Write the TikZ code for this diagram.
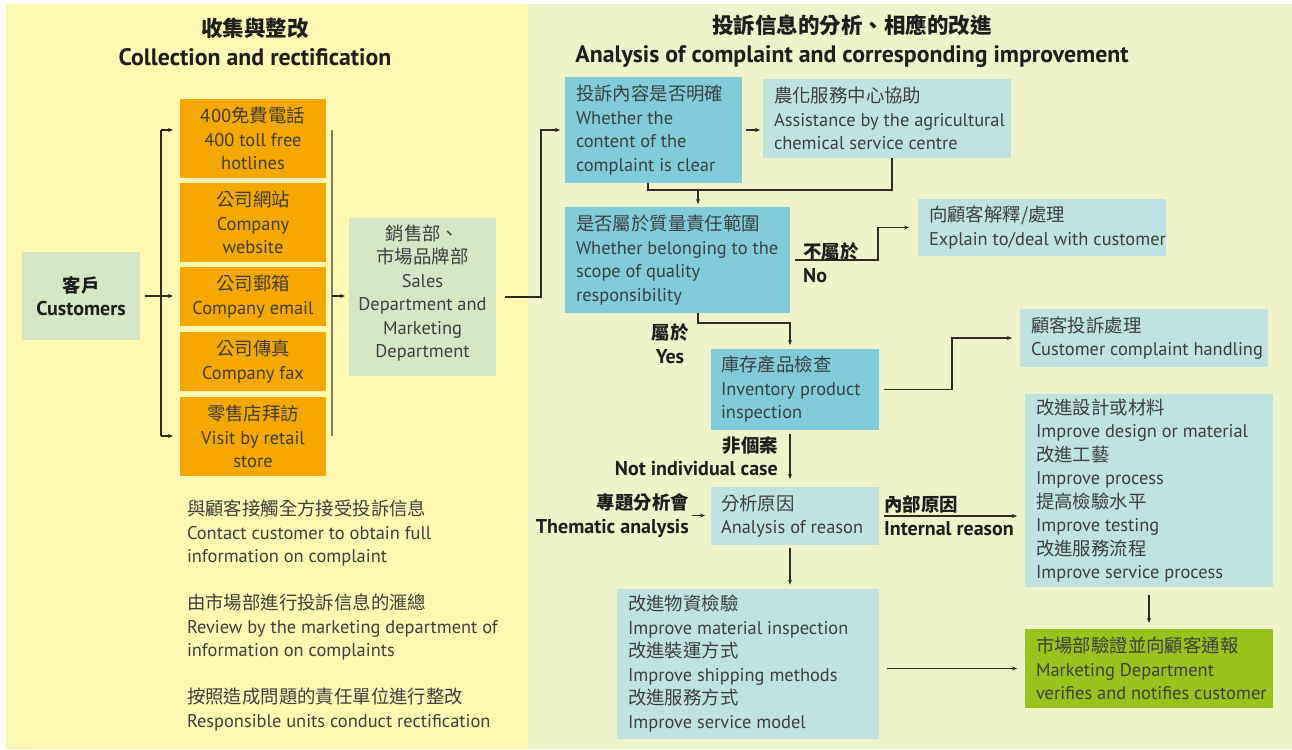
\documentclass[tikz,border=0pt]{standalone}
\usepackage{fontspec}
\setmainfont{PT Sans}
\newfontfamily\cjk{Noto Sans CJK TC}
\usetikzlibrary{arrows.meta}
\newcommand\zh[1]{{\cjk #1}}

\definecolor{leftbg}{HTML}{FFF8B3}
\definecolor{rightbg}{HTML}{EEF3CA}
\definecolor{orangebox}{HTML}{F5A800}
\definecolor{palegreen}{HTML}{D5E8C6}
\definecolor{deepblue}{HTML}{80CCDB}
\definecolor{paleblue}{HTML}{BEE3E1}
\definecolor{limegreen}{HTML}{97C31C}
\definecolor{bodytext}{HTML}{3F3F3F}
\definecolor{labeltext}{HTML}{1E1E1E}
\definecolor{wire}{HTML}{2F2A24}
\definecolor{bracketgray}{HTML}{857C66}

% English label text a little larger than the Chinese beside it
\newcommand\en[1]{{\fontsize{20}{23.5}\selectfont #1}}
\newcommand\entitle[1]{{\fontsize{23.8}{29}\selectfont #1}}

\tikzset{
  body/.style={font=\fontsize{18.4}{23.5}\selectfont, text=bodytext},
  card/.style={body, inner sep=0pt, outer sep=0pt},
  centercard/.style={card, align=center},
  panel/.style={inner sep=0pt, outer sep=0pt},
  boxtext/.style={card, align=left, anchor=west},
  lbl/.style={font=\fontsize{18.4}{23.5}\selectfont\bfseries, text=labeltext, inner sep=0pt},
  heading/.style={font=\fontsize{21.5}{29}\selectfont\bfseries, text=labeltext, align=center, inner sep=0pt},
  wireline/.style={draw=wire, line width=1.3pt},
  arr/.style={wireline, -{Stealth[length=5pt,width=4pt]}},
}

\begin{document}
\begin{tikzpicture}[x=1pt,y=-1pt]
\useasboundingbox (0,0) rectangle (1292,749);
\fill[white] (0,0) rectangle (1292,749);
% two panels
\fill[leftbg] (6,4) rectangle (528,749);
\fill[rightbg] (528,4) rectangle (1292,749);

% headings
\node[heading] (h1) at (255,41.5) {\zh{收集與整改}\\\entitle{Collection and rectification}};
\node[heading] (h2) at (852,41.5) {\zh{投訴信息的分析、相應的改進}\\\entitle{Analysis of complaint and corresponding improvement}};

% collection channels
\node[centercard, fill=palegreen, minimum width=118pt, minimum height=88pt, font=\fontsize{18.4}{23.5}\selectfont\bfseries, text=labeltext] (cust) at (81,296) {\zh{客戶}\\\en{Customers}};

\node[centercard, fill=orangebox, minimum width=146pt, minimum height=79pt] (o1) at (253,138.5) {\zh{400免費電話}\\400 toll free\\hotlines};
\node[centercard, fill=orangebox, minimum width=146pt, minimum height=79pt] (o2) at (253,222.5) {\zh{公司網站}\\Company\\website};
\node[centercard, fill=orangebox, minimum width=146pt, minimum height=59pt] (o3) at (253,296.5) {\zh{公司郵箱}\\Company email};
\node[centercard, fill=orangebox, minimum width=146pt, minimum height=59pt] (o4) at (253,361.5) {\zh{公司傳真}\\Company fax};
\node[centercard, fill=orangebox, minimum width=146pt, minimum height=79pt] (o5) at (253,436.5) {\zh{零售店拜訪}\\Visit by retail\\store};

\node[panel, fill=palegreen, minimum width=147pt, minimum height=158pt] (sales) at (422.5,297) {};
\node[centercard] (sales-t) at (422.5,293) {\zh{銷售部、}\\\zh{市場品牌部}\\Sales\\Department and\\Marketing\\Department};

% notes below the channels
\node[card, align=left, anchor=west] (note1) at (187,533.5) {\zh{與顧客接觸全方接受投訴信息}\\Contact customer to obtain full\\information on complaint};
\node[card, align=left, anchor=west] (note2) at (187,627.5) {\zh{由市場部進行投訴信息的滙總}\\Review by the marketing department of\\information on complaints};
\node[card, align=left, anchor=west] (note3) at (187,709.5) {\zh{按照造成問題的責任單位進行整改}\\Responsible units conduct rectification};

% brackets of the channel column
\coordinate (lbTop) at (161,130);
\coordinate (lbBot) at (161,436);
\coordinate (rbTop) at (332,130);
\coordinate (rbBot) at (332,436);
\coordinate (rbMid) at (332,296);
\draw[wireline] (lbTop) -- (lbBot);
\draw[arr, shorten >=7pt] (lbTop) -- (lbTop -| o1.west);
\draw[arr, shorten >=7pt] (lbBot) -- (lbBot -| o5.west);
\draw[arr, shorten <=5pt, shorten >=7pt] (cust.east) -- (cust.east -| o3.west);
\draw[draw=bracketgray, line width=2pt] (rbTop) -- (rbBot);
\draw[arr, shorten >=4pt] (rbMid) -- (rbMid -| sales.west);

% analysis column: boxes
\node[panel, fill=deepblue, minimum width=177pt, minimum height=106pt] (clear) at (653.5,130) {};
\node[panel, fill=paleblue, minimum width=248pt, minimum height=79pt] (agri) at (887,118.5) {};
\node[panel, fill=deepblue, minimum width=225pt, minimum height=106pt] (scope) at (677.5,260) {};
\node[panel, fill=paleblue, minimum width=248pt, minimum height=57pt] (explain) at (1042,227.5) {};
\node[panel, fill=deepblue, minimum width=168pt, minimum height=81pt] (inv) at (795,389.5) {};
\node[panel, fill=paleblue, minimum width=248pt, minimum height=58pt] (handle) at (1144,338) {};
\node[panel, fill=paleblue, minimum width=168pt, minimum height=58pt] (reason) at (795,516) {};
\node[panel, fill=paleblue, minimum width=262pt, minimum height=150pt] (actions) at (748,663.7) {};
\node[panel, fill=paleblue, minimum width=248pt, minimum height=193pt] (improve) at (1149,490.5) {};
\node[panel, fill=limegreen, minimum width=248pt, minimum height=79pt] (final) at (1149,668.5) {};

% analysis column: box texts
\node[boxtext] (clear-t) at ([xshift=11pt]clear.west) {\zh{投訴內容是否明確}\\Whether the\\content of the\\complaint is clear};
\node[boxtext] (agri-t) at ([xshift=11pt]agri.west) {\zh{農化服務中心協助}\\Assistance by the agricultural\\chemical service centre};
\node[boxtext] (scope-t) at ([xshift=11pt]scope.west) {\zh{是否屬於質量責任範圍}\\Whether belonging to the\\scope of quality\\responsibility};
\node[boxtext] (explain-t) at ([xshift=11pt]explain.west) {\zh{向顧客解釋/處理}\\Explain to/deal with customer};
\node[boxtext] (inv-t) at ([xshift=10pt]inv.west) {\zh{庫存產品檢查}\\Inventory product\\inspection};
\node[boxtext] (handle-t) at ([xshift=11pt]handle.west) {\zh{顧客投訴處理}\\Customer complaint handling};
\node[boxtext] (reason-t) at ([xshift=10pt]reason.west) {\zh{分析原因}\\Analysis of reason};
\node[boxtext] (actions-t) at ([xshift=11pt]actions.west) {\zh{改進物資檢驗}\\Improve material inspection\\\zh{改進裝運方式}\\Improve shipping methods\\\zh{改進服務方式}\\Improve service model};
\node[boxtext] (improve-t) at ([xshift=11pt]improve.west) {\zh{改進設計或材料}\\Improve design or material\\\zh{改進工藝}\\Improve process\\\zh{提高檢驗水平}\\Improve testing\\\zh{改進服務流程}\\Improve service process};
\node[boxtext] (final-t) at ([xshift=11pt]final.west) {\zh{市場部驗證並向顧客通報}\\Marketing Department\\verifies and notifies customer};

% branch labels
\node[lbl, align=left, anchor=west] (nolbl) at (803,262.5) {\zh{不屬於}\\\en{No}};
\node[lbl, align=center] (yeslbl) at (670,343.5) {\zh{屬於}\\\en{Yes}};
\node[lbl, align=right, anchor=east] (caselbl) at (778,456.5) {\zh{非個案}\\\en{Not individual case}};
\node[lbl, align=right, anchor=east] (them) at (689,515.5) {\zh{專題分析會}\\\en{Thematic analysis}};
\node[lbl, align=left, anchor=west] (intlbl) at (884,515.5) {\zh{內部原因}\\\en{Internal reason}};

% connectors
\draw[arr, shorten <=9pt, shorten >=5pt] (sales.east) -- ++(45,0) |- (clear.west);
\draw[arr, shorten <=4pt, shorten >=3pt] (clear.east) -- (clear.east -| agri.west);
\coordinate (m1) at (698,190);
\draw[wireline] ([xshift=83pt]clear.south west) -- ++(0,7) -| ([xshift=129pt]agri.south west);
\draw[arr, shorten >=3pt] (m1) -- (m1 |- scope.north);
\draw[arr, shorten <=5pt, shorten >=9pt] (scope.east) -- ++(88,0) |- (explain.west);
\draw[arr, shorten >=4pt] ([xshift=133pt]scope.south west) -- ++(0,10) -| ([xshift=79pt]inv.north west);
\draw[arr, shorten <=5pt, shorten >=8pt] (inv.east) -- ++(73,0) |- (handle.west);
\draw[arr, shorten <=4pt, shorten >=8pt] ([xshift=79pt]inv.south west) -- ([xshift=79pt]reason.north west);
\draw[arr, shorten <=3pt, shorten >=6pt] (them.east) -- (them.east -| reason.west);
\draw[arr, shorten <=5pt, shorten >=8pt] (reason.east) -- (reason.east -| improve.west);
\draw[arr, shorten <=3pt, shorten >=4pt] ([xshift=79pt]reason.south west) -- ([xshift=79pt]reason.south west |- actions.north);
\draw[arr, shorten <=8pt, shorten >=6pt] (improve.south) -- (final.north);
\draw[arr, shorten <=8pt, shorten >=8pt] (final.west -| actions.east) -- (final.west);
\end{tikzpicture}
\end{document}
